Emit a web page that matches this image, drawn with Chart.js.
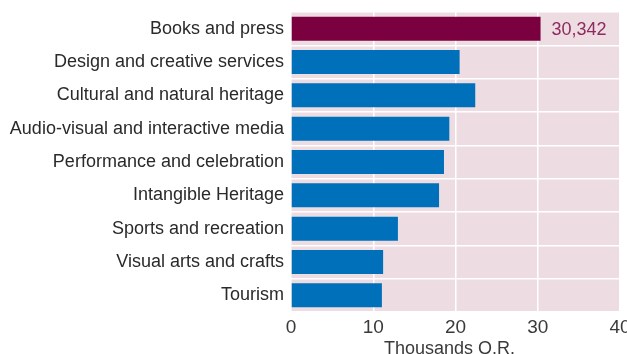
<!DOCTYPE html>
<html>
<head>
<meta charset="utf-8">
<script src="https://cdn.jsdelivr.net/npm/chart.js@4/dist/chart.umd.min.js"></script>
<style>
  html, body { margin: 0; padding: 0; background: #fff; }
  #wrap { width: 627px; height: 354px; }
</style>
</head>
<body>
<div id="wrap"><canvas id="spend"></canvas></div>
<script>
// spending per cultural domain, thousands Q.R.
const domains = [
    'Books and press',
    'Design and creative services',
    'Cultural and natural heritage',
    'Audio-visual and interactive media',
    'Performance and celebration',
    'Intangible Heritage',
    'Sports and recreation',
    'Visual arts and crafts',
    'Tourism'
];
const spending = [30.342, 20.5, 22.4, 19.25, 18.6, 18.0, 13.0, 11.2, 11.05];
const xTicks = [0, 10, 20, 30, 40];

const FONT = '"Liberation Sans", Arial, sans-serif';

// first bar is highlighted, the rest are plain blue
const barColors = spending.map((v, i) => i === 0 ? '#7b003f' : '#0070bb');

// pink panel behind the bars
const panelBg = {
    id: 'panelBg',
    beforeDraw(chart) {
        const a = chart.chartArea;
        const ctx = chart.ctx;
        ctx.save();
        ctx.fillStyle = '#eddce1';
        ctx.fillRect(a.left, a.top, a.right - a.left, a.bottom - a.top);
        ctx.restore();
    }
};

// value written next to the highlighted bar
const topLabel = {
    id: 'topLabel',
    afterDatasetsDraw(chart) {
        const bar = chart.getDatasetMeta(0).data[0];
        const ctx = chart.ctx;
        ctx.save();
        ctx.font = '18px ' + FONT;
        ctx.fillStyle = '#8e2a5e';
        ctx.textBaseline = 'middle';
        ctx.textAlign = 'left';
        const txt = Math.round(spending[0] * 1000).toLocaleString('en-US');
        ctx.fillText(txt, bar.x + 11, bar.y + 1);
        ctx.restore();
    }
};

// axis caption, sits a little left of the plot centre and runs off the bottom edge
const xCaption = {
    id: 'xCaption',
    afterDraw(chart) {
        const a = chart.chartArea;
        const ctx = chart.ctx;
        ctx.save();
        ctx.font = '18px ' + FONT;
        ctx.fillStyle = '#3a3a3a';
        ctx.textAlign = 'center';
        ctx.textBaseline = 'top';
        ctx.fillText('Thousands Q.R.', (a.left + a.right) / 2 - 6, a.bottom + 28);
        ctx.restore();
    }
};

new Chart(document.getElementById('spend'), {
    type: 'bar',
    data: {
        labels: domains,
        datasets: [{
            data: spending,
            backgroundColor: barColors,
            borderWidth: 0,
            categoryPercentage: 1,
            barPercentage: 0.72
        }]
    },
    options: {
        indexAxis: 'y',
        responsive: true,
        maintainAspectRatio: false,
        animation: false,
        layout: { padding: { top: 12, right: 7, left: 0, bottom: 0 } },
        plugins: {
            legend: { display: false },
            tooltip: { enabled: false }
        },
        scales: {
            x: {
                min: 0,
                max: 40,
                afterBuildTicks(axis) { axis.ticks = xTicks.map(v => ({ value: v })); },
                grid: { color: '#ffffff', lineWidth: 1.5, drawTicks: false },
                border: { display: false },
                ticks: {
                    color: '#3a3a3a',
                    padding: 4,
                    font: { family: FONT, size: 19 }
                },
                afterFit(axis) {
                    axis.height = 42;
                    axis.paddingLeft = 0;
                    axis.paddingRight = 0;
                }
            },
            y: {
                grid: { color: '#ffffff', lineWidth: 1.5, offset: true, drawTicks: false },
                border: { display: false },
                ticks: {
                    color: '#2a2a2a',
                    padding: 7,
                    font: { family: FONT, size: 18 }
                },
                afterFit(axis) {
                    axis.width = 291;
                    axis.paddingTop = 0;
                    axis.paddingBottom = 0;
                }
            }
        }
    },
    plugins: [panelBg, topLabel, xCaption]
});
</script>
</body>
</html>
